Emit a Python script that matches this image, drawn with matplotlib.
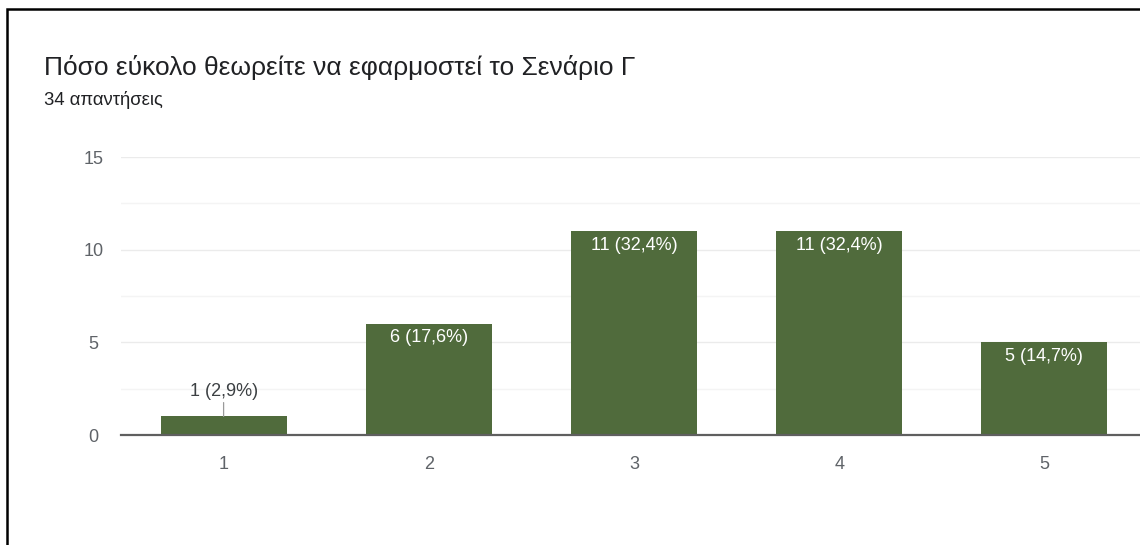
import matplotlib
matplotlib.use('Agg')
import matplotlib.pyplot as plt
from matplotlib.patches import Rectangle

plt.rcParams['font.family'] = ['Liberation Sans', 'DejaVu Sans']

# data
categories = ['1', '2', '3', '4', '5']
counts = [1, 6, 11, 11, 5]
labels = ['1 (2,9%)', '6 (17,6%)', '11 (32,4%)', '11 (32,4%)', '5 (14,7%)']
title = 'Πόσο εύκολο θεωρείτε να εφαρμοστεί το Σενάριο Γ'
subtitle = '34 απαντήσεις'

bar_color = '#506b3c'
text_gray = '#5f6368'

fig = plt.figure(figsize=(11.4, 5.45), dpi=100, facecolor='white')

# frame of the screenshot
fig.add_artist(Rectangle((7 / 1140, -0.05), 1.1, (545 - 9) / 545 + 0.05,
                         transform=fig.transFigure, fill=False,
                         edgecolor='black', lw=1.8))

fig.text(44 / 1140, 1 - 67 / 545, title, fontsize=19, color='#202124',
         va='center', ha='left')
fig.text(44 / 1140, 1 - 100 / 545, subtitle, fontsize=13.3, color='#202124',
         va='center', ha='left')

ax = fig.add_axes([121 / 1140, 110 / 545, (1147 - 121) / 1140, (435 - 157) / 545])
x = list(range(1, len(categories) + 1))
ax.bar(x, counts, width=0.615, color=bar_color, zorder=3)

ax.set_xlim(0.5, 5.5)
ax.set_ylim(0, 15)
ax.set_yticks([0, 5, 10, 15])
ax.set_yticks([2.5, 7.5, 12.5], minor=True)
ax.set_xticks(x)
ax.set_xticklabels(categories)
ax.tick_params(axis='both', length=0, labelsize=13, colors=text_gray)
ax.tick_params(axis='y', pad=20)
ax.tick_params(axis='x', pad=15)
ax.tick_params(axis='y', which='minor', length=0)
for lbl in ax.get_yticklabels():
    lbl.set_horizontalalignment('center')

ax.grid(axis='y', which='major', color='#ebebeb', lw=1, zorder=0)
ax.grid(axis='y', which='minor', color='#f4f4f4', lw=1, zorder=0)
for s in ['top', 'right', 'left']:
    ax.spines[s].set_visible(False)
ax.spines['bottom'].set_color('#5f5f5f')
ax.spines['bottom'].set_linewidth(1.6)
ax.spines['bottom'].set_zorder(4)

for xi, c, lbl in zip(x, counts, labels):
    if c >= 3:
        ax.annotate(lbl, (xi, c), xytext=(0, -4), textcoords='offset points',
                    ha='center', va='top', fontsize=13, color='white', zorder=5)
    else:
        ax.annotate(lbl, (xi, c), xytext=(0, 12), textcoords='offset points',
                    ha='center', va='bottom', fontsize=13, color='#3c4043',
                    arrowprops=dict(arrowstyle='-', color='#9a9a9a', lw=0.9,
                                    shrinkA=0, shrinkB=0), zorder=5)

fig.savefig('out.png', dpi=100)
